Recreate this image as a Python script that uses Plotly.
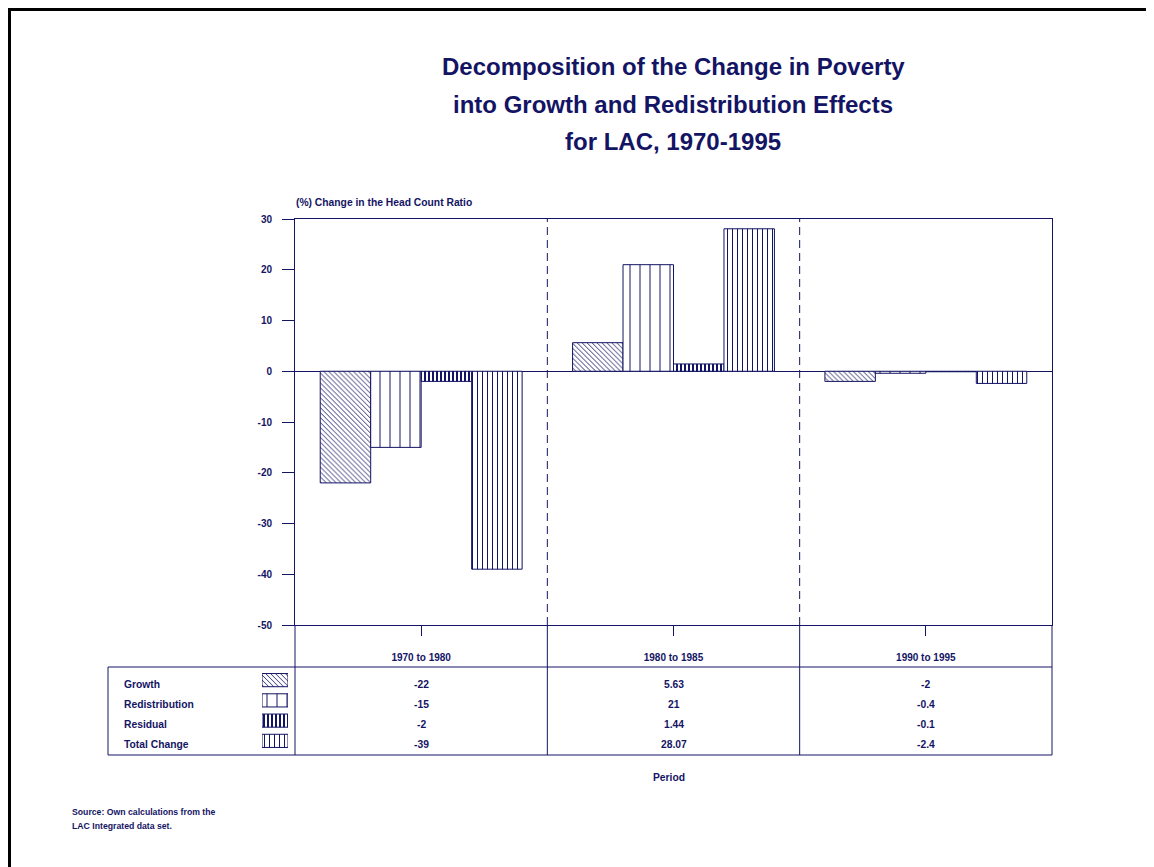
import plotly.graph_objects as go

# ---------------- data ----------------
periods = ["1970 to 1980", "1980 to 1985", "1990 to 1995"]
series_names = ["Growth", "Redistribution", "Residual", "Total Change"]
growth = [-22, 5.63, -2]
redistribution = [-15, 21, -0.4]
residual = [-2, 1.44, -0.1]
total_change = [-39, 28.07, -2.4]
y_ticks = [30, 20, 10, 0, -10, -20, -30, -40, -50]

title_lines = [
    "Decomposition of the Change in Poverty",
    "into Growth and Redistribution Effects",
    "for LAC, 1970-1995",
]
y_title = "(%) Change in the Head Count Ratio"
x_title = "Period"
source_lines = ["Source: Own calculations from the", "LAC Integrated data set."]

# ---------------- styling ----------------
NAVY = "#141464"
FONT = "Liberation Sans, Arial, sans-serif"
W_FIG, H_FIG = 1154, 867
OFF = 8  # page body margin
L, R, T, B = 100, 110, 180, 100
PW, PH = W_FIG - L - R, H_FIG - T - B


def fx(px):  # page pixel -> paper x
    return (px - OFF - L) / PW


def fy(py):  # page pixel -> paper y
    return (H_FIG - B - (py - OFF)) / PH


patterns = {
    "Growth": dict(shape="\\", size=3.5, solidity=0.25),
    "Redistribution": dict(shape="|", size=10, solidity=0.1),
    "Residual": dict(shape="|", size=4, solidity=0.5),
    "Total Change": dict(shape="|", size=5, solidity=0.2),
}
values = {
    "Growth": growth,
    "Redistribution": redistribution,
    "Residual": residual,
    "Total Change": total_change,
}

fig = go.Figure()
for name in series_names:
    p = patterns[name]
    fig.add_trace(go.Bar(
        x=periods, y=values[name], name=name,
        marker=dict(color="white", line=dict(color=NAVY, width=1),
                    pattern=dict(shape=p["shape"], size=p["size"], solidity=p["solidity"],
                                 fgcolor=NAVY, bgcolor="white", fillmode="replace")),
        showlegend=False, hoverinfo="skip",
    ))

# legend swatches inside the table (own small axes)
fig.add_trace(go.Bar(
    y=series_names, x=[1] * len(series_names), orientation="h",
    xaxis="x2", yaxis="y2", width=0.65, showlegend=False, hoverinfo="skip",
    marker=dict(color="white", line=dict(color=NAVY, width=1),
                pattern=dict(shape=[patterns[n]["shape"] for n in series_names],
                             size=[patterns[n]["size"] for n in series_names],
                             solidity=[patterns[n]["solidity"] for n in series_names],
                             fgcolor=NAVY, bgcolor="white", fillmode="replace")),
))

tickfont = dict(family=FONT, size=10, color=NAVY, weight="bold")

fig.update_layout(
    width=W_FIG, height=H_FIG,
    margin=dict(l=L, r=R, t=T, b=B),
    paper_bgcolor="white", plot_bgcolor="white",
    barmode="group", bargap=0.2, bargroupgap=0,
    xaxis=dict(domain=[fx(295), 1], type="category", categoryorder="array",
               categoryarray=periods, showline=True, linecolor=NAVY, linewidth=1,
               mirror=True, ticks="outside", ticklen=10, tickcolor=NAVY,
               tickfont=tickfont, ticklabelstandoff=13, showgrid=False,
               zeroline=False, anchor="y"),
    yaxis=dict(domain=[fy(625), fy(219)], range=[-50, 30], tickvals=y_ticks,
               ticktext=["{:g}".format(v) for v in y_ticks],
               showline=True, linecolor=NAVY, linewidth=1, mirror=True,
               ticks="outside", ticklen=12, tickcolor=NAVY, tickfont=tickfont,
               ticklabelstandoff=8, showgrid=False, zeroline=True,
               zerolinecolor=NAVY, zerolinewidth=1, anchor="x"),
    xaxis2=dict(domain=[fx(262), fx(288)], range=[0, 1], visible=False, anchor="y2",
                fixedrange=True),
    yaxis2=dict(domain=[fy(751), fy(670)], range=[3.5, -0.5], visible=False,
                type="category", categoryorder="array", categoryarray=series_names,
                anchor="x2", fixedrange=True),
)

shapes = []
line_style = dict(color=NAVY, width=1)
# dashed period separators in plot area
for xb in [0.5, 1.5]:
    shapes.append(dict(type="line", xref="x", yref="y", x0=xb, x1=xb, y0=-50, y1=30,
                       line=dict(color=NAVY, width=1, dash="8px,5px")))
    shapes.append(dict(type="line", xref="x", yref="paper", x0=xb, x1=xb,
                       y0=fy(755), y1=fy(625), line=line_style))
# table frame
shapes.append(dict(type="line", xref="paper", yref="paper", x0=fx(295), x1=fx(295),
                   y0=fy(755), y1=fy(625), line=line_style))
shapes.append(dict(type="line", xref="paper", yref="paper", x0=1, x1=1,
                   y0=fy(755), y1=fy(625), line=line_style))
shapes.append(dict(type="line", xref="paper", yref="paper", x0=fx(108), x1=1,
                   y0=fy(667), y1=fy(667), line=line_style))
shapes.append(dict(type="line", xref="paper", yref="paper", x0=fx(108), x1=1,
                   y0=fy(755), y1=fy(755), line=line_style))
shapes.append(dict(type="line", xref="paper", yref="paper", x0=fx(108), x1=fx(108),
                   y0=fy(755), y1=fy(667), line=line_style))
# page border
shapes.append(dict(type="line", xref="paper", yref="paper", x0=fx(9.5), x1=fx(1170),
                   y0=fy(9.5), y1=fy(9.5), line=dict(color="black", width=3)))
shapes.append(dict(type="line", xref="paper", yref="paper", x0=fx(9.5), x1=fx(9.5),
                   y0=fy(8), y1=fy(880), line=dict(color="black", width=3)))
fig.update_layout(shapes=shapes)

ann = []
title_font = dict(family=FONT, size=24, color=NAVY, weight="bold")
for line, py in zip(title_lines, [67, 104, 142]):
    ann.append(dict(text=line, xref="paper", yref="paper", x=fx(673), y=fy(py),
                    xanchor="center", yanchor="middle", showarrow=False, font=title_font))
small = dict(family=FONT, size=10.3, color=NAVY, weight="bold")
ann.append(dict(text=y_title, xref="paper", yref="paper", x=fx(294), y=fy(202),
                xanchor="left", yanchor="middle", showarrow=False, font=small))
row_py = [684, 704, 724, 744]
for name, py in zip(series_names, row_py):
    ann.append(dict(text=name, xref="paper", yref="paper", x=fx(122), y=fy(py),
                    xanchor="left", yanchor="middle", showarrow=False, font=small))
    for per, v in zip(periods, values[name]):
        ann.append(dict(text="{:g}".format(v), xref="x", yref="paper", x=per, y=fy(py),
                        xanchor="center", yanchor="middle", showarrow=False, font=small))
ann.append(dict(text=x_title, xref="paper", yref="paper", x=fx(669), y=fy(778),
                xanchor="center", yanchor="middle", showarrow=False, font=small))
src_font = dict(family=FONT, size=8.7, color=NAVY, weight="bold")
for line, py in zip(source_lines, [812, 826]):
    ann.append(dict(text=line, xref="paper", yref="paper", x=fx(70), y=fy(py),
                    xanchor="left", yanchor="middle", showarrow=False, font=src_font))
fig.update_layout(annotations=ann)

fig.write_html("out.html")
